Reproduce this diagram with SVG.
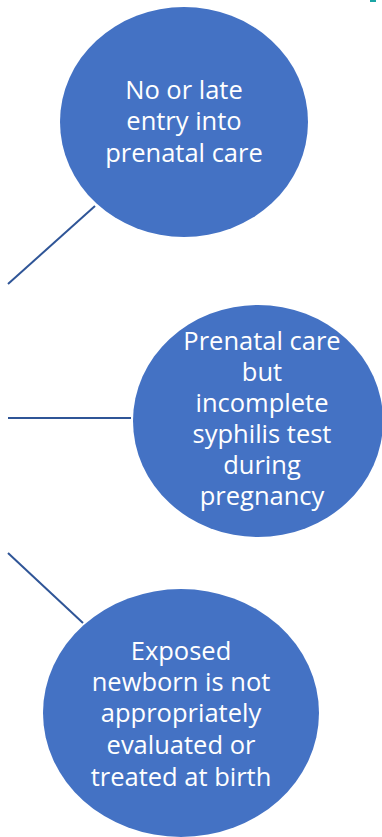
<svg xmlns="http://www.w3.org/2000/svg" width="382" height="837" viewBox="0 0 382 837">
<style>
.node{fill:#4472C4}
.t{fill:#fff;font-family:"Open Sans","Liberation Sans",sans-serif;font-size:25.5px;text-anchor:middle}
.c{stroke:#2F5597;stroke-width:2;fill:none}
</style>
<rect width="382" height="837" fill="#fff"/>
<rect x="370" y="0" width="6" height="2" fill="#1BA5A5"/>
<g id="connectors">
<line class="c" x1="8" y1="284" x2="95" y2="206"/>
<line class="c" x1="8" y1="418" x2="131" y2="418"/>
<line class="c" x1="8" y1="553" x2="83" y2="623"/>
</g>
<g id="node1">
<ellipse class="node" cx="184" cy="122" rx="124" ry="115"/>
<text class="t" x="184" y="99">No or late</text>
<text class="t" x="184" y="130">entry into</text>
<text class="t" x="184" y="162">prenatal care</text>
</g>
<g id="node2">
<ellipse class="node" cx="258" cy="421" rx="125" ry="116"/>
<text class="t" x="262" y="350">Prenatal care</text>
<text class="t" x="262" y="381">but</text>
<text class="t" x="262" y="412">incomplete</text>
<text class="t" x="262" y="443">syphilis test</text>
<text class="t" x="262" y="474">during</text>
<text class="t" x="262" y="505">pregnancy</text>
</g>
<g id="node3">
<ellipse class="node" cx="181" cy="713" rx="138" ry="124"/>
<text class="t" x="181" y="660">Exposed</text>
<text class="t" x="181" y="691">newborn is not</text>
<text class="t" x="181" y="722">appropriately</text>
<text class="t" x="181" y="754">evaluated or</text>
<text class="t" x="181" y="786">treated at birth</text>
</g>
</svg>
